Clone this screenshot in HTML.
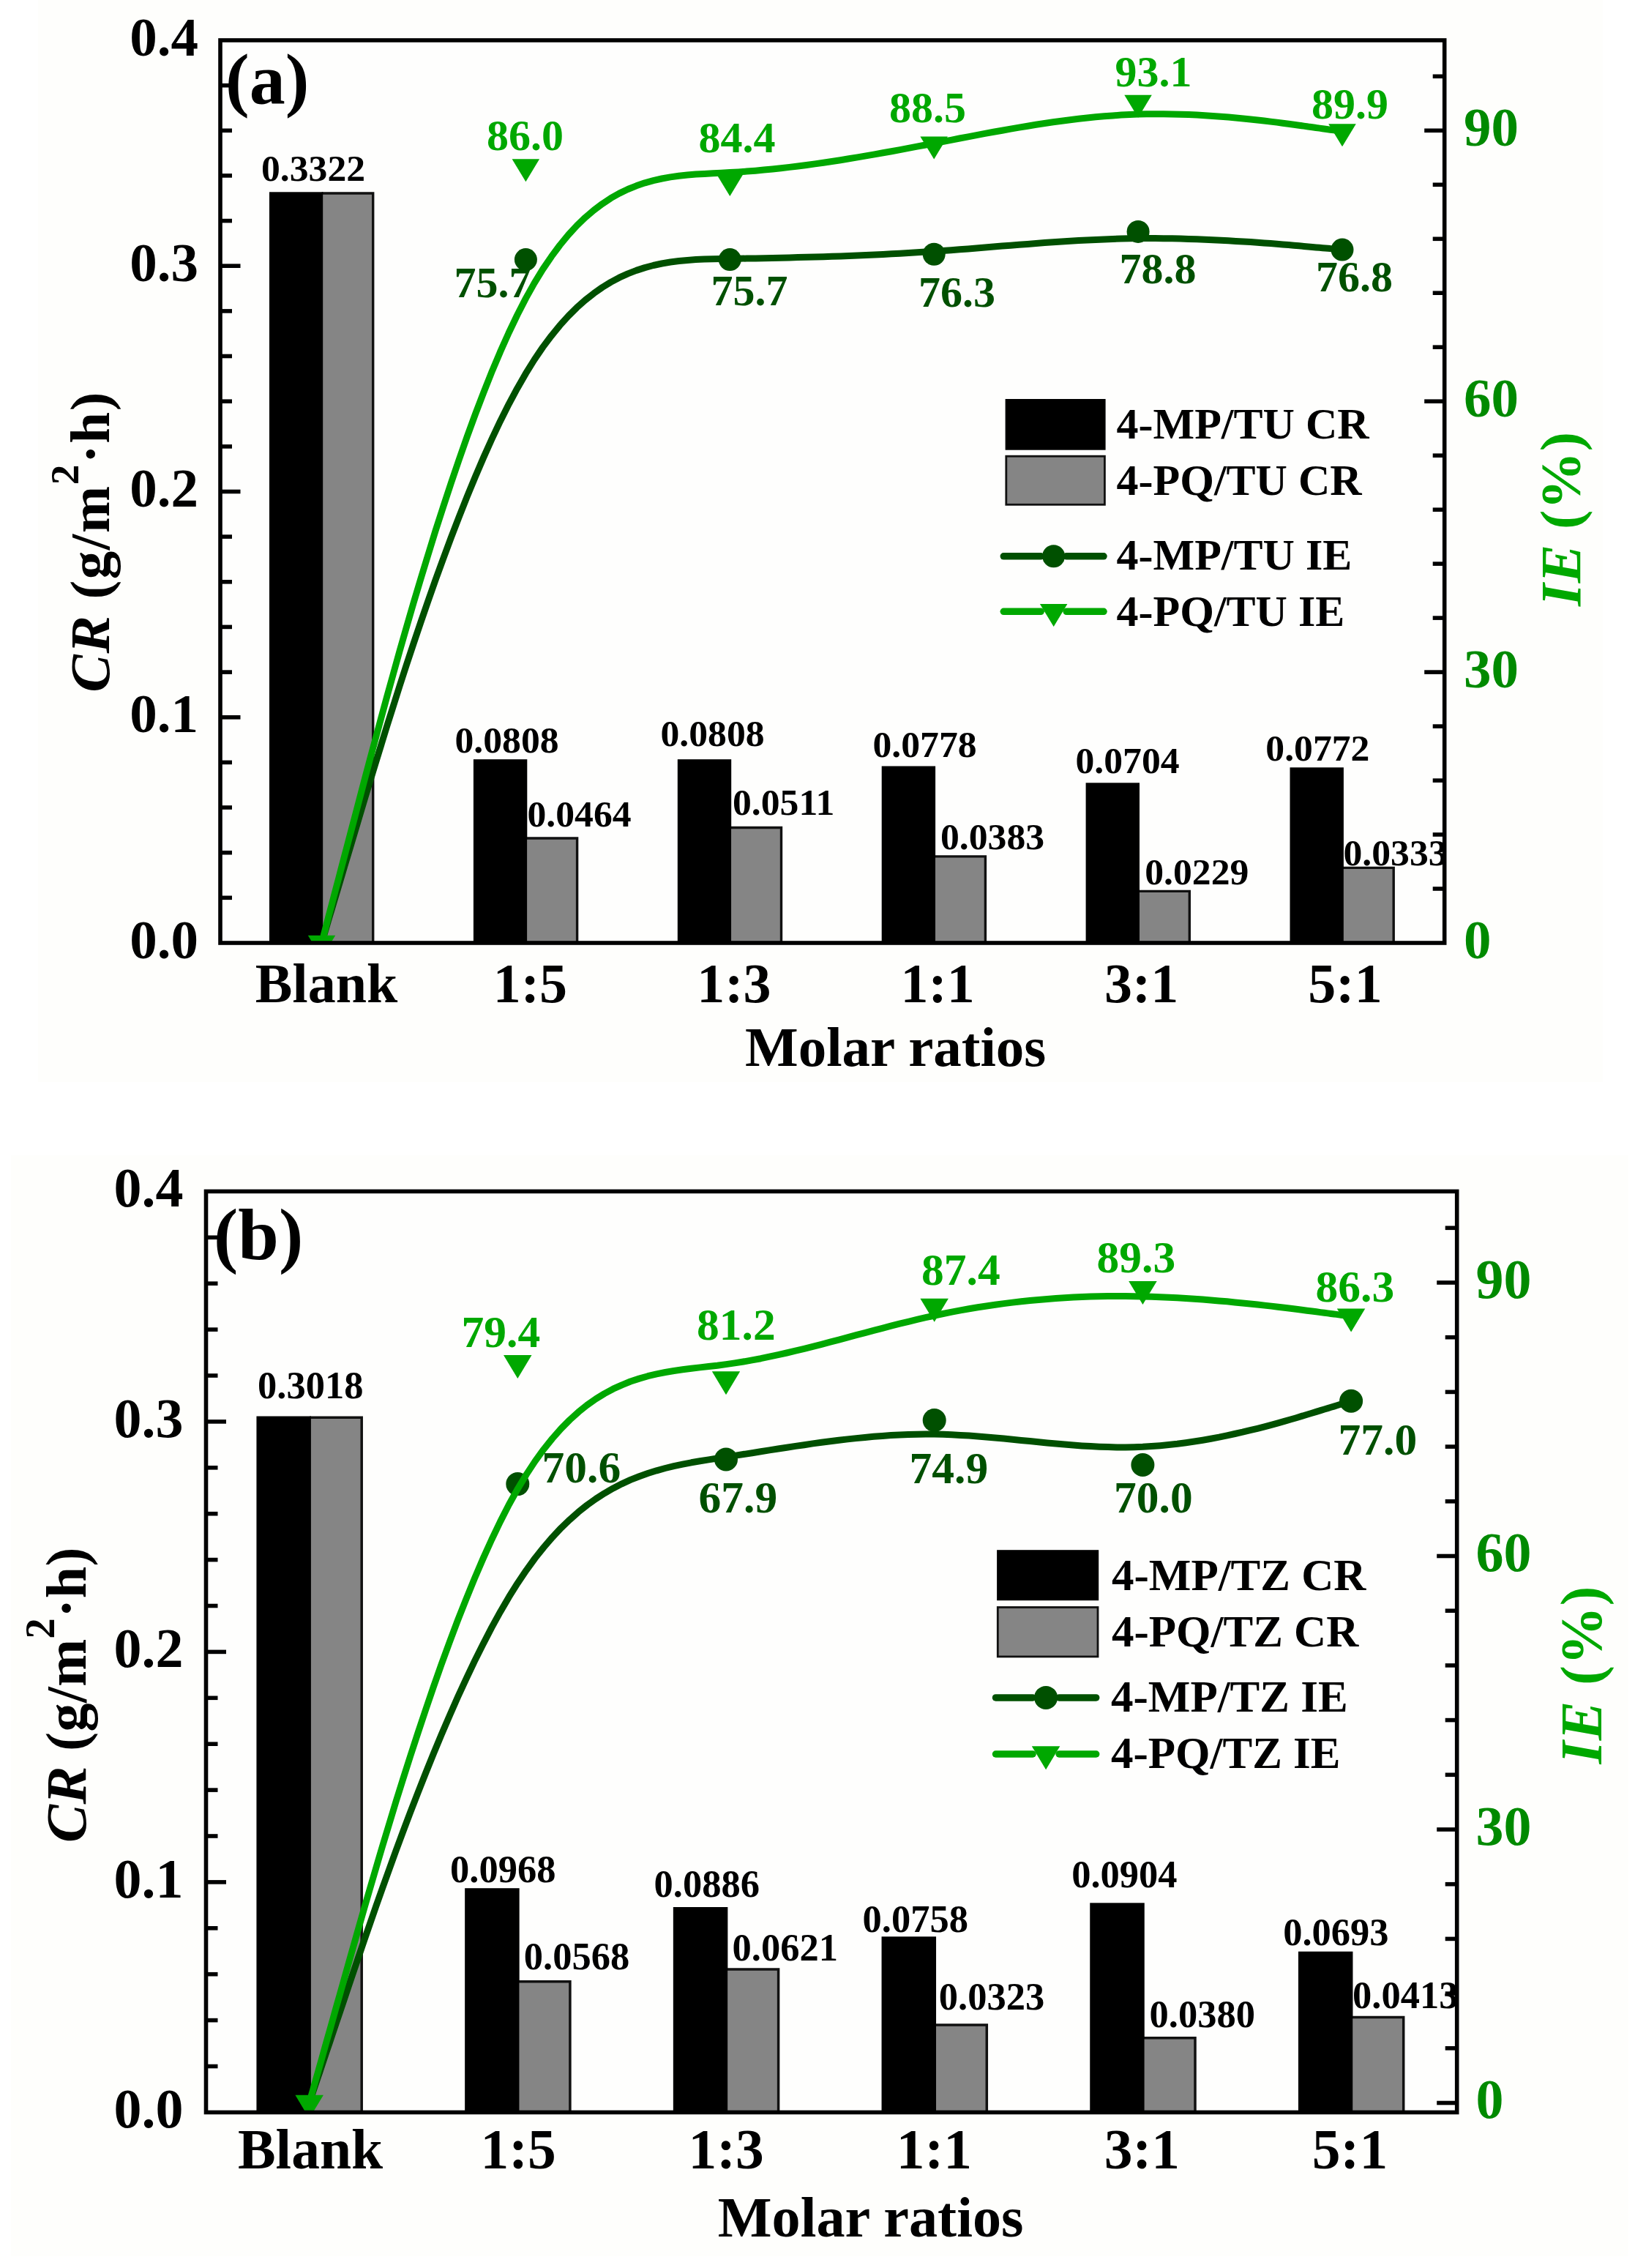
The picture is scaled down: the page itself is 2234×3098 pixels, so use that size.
<!DOCTYPE html>
<html><head><meta charset="utf-8"><title>Figure</title>
<style>html,body{margin:0;padding:0;background:#fff}svg{display:block}</style></head>
<body>
<svg width="2234" height="3098" viewBox="0 0 2234 3098" font-family="'Liberation Serif', serif" font-weight="bold">
<rect x="52" y="0" width="2138" height="1478" fill="#fefefc"/>
<rect x="15" y="1578" width="2210" height="1504" fill="#fefefc"/>
<rect x="301" y="55" width="1672.7" height="1233.0" fill="#fefefd"/>
<rect x="441.40" y="264.0" width="68.30" height="1024.0" fill="#858585"/>
<path d="M509.70,1288 V264.0 H439.70" fill="none" stroke="#111" stroke-width="3.4"/>
<rect x="368.00" y="262.3" width="73.40" height="1025.7" fill="#000"/>
<rect x="720.30" y="1145.0" width="68.30" height="143.0" fill="#858585"/>
<path d="M788.60,1288 V1145.0 H718.60" fill="none" stroke="#111" stroke-width="3.4"/>
<rect x="646.90" y="1037.2" width="73.40" height="250.8" fill="#000"/>
<rect x="999.20" y="1130.5" width="68.30" height="157.5" fill="#858585"/>
<path d="M1067.50,1288 V1130.5 H997.50" fill="none" stroke="#111" stroke-width="3.4"/>
<rect x="925.80" y="1037.2" width="73.40" height="250.8" fill="#000"/>
<rect x="1278.10" y="1169.9" width="68.30" height="118.1" fill="#858585"/>
<path d="M1346.40,1288 V1169.9 H1276.40" fill="none" stroke="#111" stroke-width="3.4"/>
<rect x="1204.70" y="1046.5" width="73.40" height="241.5" fill="#000"/>
<rect x="1557.00" y="1217.4" width="68.30" height="70.6" fill="#858585"/>
<path d="M1625.30,1288 V1217.4 H1555.30" fill="none" stroke="#111" stroke-width="3.4"/>
<rect x="1483.60" y="1069.3" width="73.40" height="218.7" fill="#000"/>
<rect x="1835.90" y="1185.4" width="68.30" height="102.6" fill="#858585"/>
<path d="M1904.20,1288 V1185.4 H1834.20" fill="none" stroke="#111" stroke-width="3.4"/>
<rect x="1762.50" y="1048.3" width="73.40" height="239.7" fill="#000"/>
<clipPath id="clipa"><rect x="301" y="55" width="1672.7" height="1233.0"/></clipPath>
<g clip-path="url(#clipa)">
<path d="M439.5,1288.0 L439.5,1288.0 L439.5,1287.9 L439.6,1287.7 L439.7,1287.3 L439.9,1286.6 L440.2,1285.6 L440.7,1284.1 L441.2,1282.2 L442.0,1279.8 L442.9,1276.7 L444.0,1273.0 L445.3,1268.6 L446.9,1263.3 L448.7,1257.1 L450.8,1250.0 L453.3,1241.9 L456.0,1232.7 L459.1,1222.4 L462.6,1210.8 L466.4,1198.0 L470.6,1183.8 L475.3,1168.2 L480.4,1151.1 L486.0,1132.4 L492.0,1112.2 L498.5,1090.5 L505.5,1067.4 L512.9,1043.1 L520.7,1017.8 L528.8,991.5 L537.4,964.3 L546.2,936.5 L555.4,908.2 L564.9,879.5 L574.7,850.5 L584.8,821.3 L595.0,792.2 L605.6,763.2 L616.3,734.4 L627.2,706.1 L638.2,678.3 L649.4,651.2 L660.7,624.9 L672.1,599.5 L683.6,575.2 L695.2,552.1 L706.8,530.4 L718.4,510.2 L730.0,491.5 L741.6,474.4 L753.3,458.8 L764.9,444.6 L776.5,431.8 L788.1,420.2 L799.7,409.9 L811.4,400.7 L823.0,392.5 L834.6,385.4 L846.2,379.2 L857.9,373.9 L869.5,369.4 L881.1,365.6 L892.7,362.5 L904.3,360.0 L916.0,358.0 L927.6,356.5 L939.2,355.4 L950.8,354.6 L962.4,354.1 L974.1,353.8 L985.7,353.5 L997.3,353.4 L1008.9,353.2 L1020.5,353.1 L1032.2,352.9 L1043.8,352.7 L1055.4,352.4 L1067.0,352.2 L1078.6,351.9 L1090.3,351.6 L1101.9,351.3 L1113.5,351.0 L1125.1,350.7 L1136.7,350.3 L1148.4,349.9 L1160.0,349.4 L1171.6,349.0 L1183.2,348.5 L1194.9,348.0 L1206.5,347.4 L1218.1,346.8 L1229.7,346.2 L1241.3,345.5 L1253.0,344.8 L1264.6,344.1 L1276.2,343.3 L1287.8,342.5 L1299.4,341.7 L1311.1,340.8 L1322.7,339.9 L1334.3,338.9 L1345.9,338.0 L1357.5,337.1 L1369.2,336.1 L1380.8,335.2 L1392.4,334.3 L1404.0,333.4 L1415.6,332.5 L1427.3,331.6 L1438.9,330.8 L1450.5,330.0 L1462.1,329.3 L1473.8,328.6 L1485.4,327.9 L1497.0,327.4 L1508.6,326.9 L1520.2,326.4 L1531.9,326.1 L1543.5,325.8 L1555.1,325.6 L1566.7,325.6 L1578.3,325.6 L1589.9,325.7 L1601.4,325.8 L1612.8,326.1 L1624.1,326.4 L1635.3,326.8 L1646.3,327.2 L1657.2,327.7 L1667.9,328.2 L1678.5,328.8 L1688.7,329.4 L1698.8,330.0 L1708.6,330.6 L1718.1,331.3 L1727.3,332.0 L1736.1,332.6 L1744.7,333.3 L1752.8,334.0 L1760.6,334.6 L1768.0,335.2 L1775.0,335.8 L1781.5,336.4 L1787.5,336.9 L1793.1,337.4 L1798.2,337.9 L1802.9,338.3 L1807.1,338.7 L1810.9,339.0 L1814.4,339.3 L1817.5,339.6 L1820.2,339.8 L1822.7,340.1 L1824.8,340.2 L1826.6,340.4 L1828.2,340.5 L1829.5,340.7 L1830.6,340.8 L1831.5,340.8 L1832.3,340.9 L1832.8,341.0 L1833.3,341.0 L1833.6,341.0 L1833.8,341.0 L1833.9,341.0 L1834.0,341.1 L1834.0,341.1 L1834.0,341.1" fill="none" stroke="#005000" stroke-width="9" stroke-linejoin="round" stroke-linecap="butt"/>
<circle cx="718.4" cy="354.6" r="15.5" fill="#005000"/>
<circle cx="997.3" cy="354.6" r="15.5" fill="#005000"/>
<circle cx="1276.2" cy="347.2" r="15.5" fill="#005000"/>
<circle cx="1555.1" cy="316.4" r="15.5" fill="#005000"/>
<circle cx="1834.0" cy="341.1" r="15.5" fill="#005000"/>
<path d="M439.5,1288.0 L439.5,1288.0 L439.5,1287.9 L439.6,1287.7 L439.7,1287.2 L439.9,1286.4 L440.2,1285.2 L440.7,1283.6 L441.2,1281.5 L442.0,1278.7 L442.9,1275.2 L444.0,1271.0 L445.3,1265.9 L446.9,1259.9 L448.7,1252.9 L450.8,1244.9 L453.3,1235.6 L456.0,1225.2 L459.1,1213.4 L462.6,1200.3 L466.4,1185.7 L470.6,1169.6 L475.3,1151.9 L480.4,1132.5 L486.0,1111.3 L492.0,1088.3 L498.5,1063.6 L505.5,1037.4 L512.9,1009.8 L520.7,981.0 L528.8,951.2 L537.4,920.4 L546.2,888.8 L555.4,856.7 L564.9,824.1 L574.7,791.2 L584.8,758.2 L595.0,725.2 L605.6,692.4 L616.3,659.9 L627.2,627.9 L638.2,596.5 L649.4,565.9 L660.7,536.3 L672.1,507.7 L683.6,480.4 L695.2,454.5 L706.8,430.2 L718.4,407.6 L730.0,386.9 L741.6,367.9 L753.3,350.7 L764.9,335.0 L776.5,320.9 L788.1,308.3 L799.7,297.1 L811.4,287.1 L823.0,278.4 L834.6,270.7 L846.2,264.1 L857.9,258.5 L869.5,253.8 L881.1,249.8 L892.7,246.6 L904.3,244.0 L916.0,241.9 L927.6,240.3 L939.2,239.1 L950.8,238.1 L962.4,237.4 L974.1,236.8 L985.7,236.2 L997.3,235.6 L1008.9,234.9 L1020.5,234.1 L1032.2,233.2 L1043.8,232.1 L1055.4,231.0 L1067.0,229.8 L1078.6,228.4 L1090.3,227.0 L1101.9,225.5 L1113.5,223.9 L1125.1,222.2 L1136.7,220.5 L1148.4,218.7 L1160.0,216.8 L1171.6,214.9 L1183.2,212.9 L1194.9,210.9 L1206.5,208.8 L1218.1,206.7 L1229.7,204.6 L1241.3,202.4 L1253.0,200.2 L1264.6,198.0 L1276.2,195.8 L1287.8,193.5 L1299.4,191.3 L1311.1,189.0 L1322.7,186.8 L1334.3,184.6 L1345.9,182.4 L1357.5,180.3 L1369.2,178.2 L1380.8,176.1 L1392.4,174.1 L1404.0,172.2 L1415.6,170.3 L1427.3,168.5 L1438.9,166.8 L1450.5,165.2 L1462.1,163.7 L1473.8,162.3 L1485.4,161.0 L1497.0,159.8 L1508.6,158.8 L1520.2,157.9 L1531.9,157.1 L1543.5,156.5 L1555.1,156.1 L1566.7,155.8 L1578.3,155.7 L1589.9,155.7 L1601.4,155.9 L1612.8,156.2 L1624.1,156.6 L1635.3,157.1 L1646.3,157.7 L1657.2,158.4 L1667.9,159.2 L1678.5,160.1 L1688.7,161.0 L1698.8,161.9 L1708.6,162.9 L1718.1,164.0 L1727.3,165.0 L1736.1,166.1 L1744.7,167.1 L1752.8,168.2 L1760.6,169.2 L1768.0,170.2 L1775.0,171.2 L1781.5,172.1 L1787.5,173.0 L1793.1,173.7 L1798.2,174.5 L1802.9,175.1 L1807.1,175.7 L1810.9,176.3 L1814.4,176.8 L1817.5,177.2 L1820.2,177.6 L1822.7,177.9 L1824.8,178.2 L1826.6,178.5 L1828.2,178.7 L1829.5,178.9 L1830.6,179.1 L1831.5,179.2 L1832.3,179.3 L1832.8,179.4 L1833.3,179.4 L1833.6,179.5 L1833.8,179.5 L1833.9,179.5 L1834.0,179.5 L1834.0,179.5 L1834.0,179.5" fill="none" stroke="#00a800" stroke-width="9" stroke-linejoin="round" stroke-linecap="butt"/>
<polygon points="420.8,1277.7 458.2,1277.7 439.5,1308.7" fill="#00a800"/>
<polygon points="699.6,217.3 737.1,217.3 718.4,248.3" fill="#00a800"/>
<polygon points="978.5,237.0 1016.0,237.0 997.3,268.0" fill="#00a800"/>
<polygon points="1257.4,186.5 1294.9,186.5 1276.2,217.5" fill="#00a800"/>
<polygon points="1536.3,129.7 1573.8,129.7 1555.1,160.7" fill="#00a800"/>
<polygon points="1815.2,169.2 1852.8,169.2 1834.0,200.2" fill="#00a800"/>
</g>
<rect x="301" y="55" width="1672.7" height="1233.0" fill="none" stroke="#000" stroke-width="5.6"/>
<line x1="301" x2="317" y1="1226.3" y2="1226.3" stroke="#000" stroke-width="5.6"/>
<line x1="301" x2="317" y1="1164.7" y2="1164.7" stroke="#000" stroke-width="5.6"/>
<line x1="301" x2="317" y1="1103.0" y2="1103.0" stroke="#000" stroke-width="5.6"/>
<line x1="301" x2="317" y1="1041.4" y2="1041.4" stroke="#000" stroke-width="5.6"/>
<line x1="301" x2="328.5" y1="979.8" y2="979.8" stroke="#000" stroke-width="5.6"/>
<line x1="301" x2="317" y1="918.1" y2="918.1" stroke="#000" stroke-width="5.6"/>
<line x1="301" x2="317" y1="856.4" y2="856.4" stroke="#000" stroke-width="5.6"/>
<line x1="301" x2="317" y1="794.8" y2="794.8" stroke="#000" stroke-width="5.6"/>
<line x1="301" x2="317" y1="733.1" y2="733.1" stroke="#000" stroke-width="5.6"/>
<line x1="301" x2="328.5" y1="671.5" y2="671.5" stroke="#000" stroke-width="5.6"/>
<line x1="301" x2="317" y1="609.9" y2="609.9" stroke="#000" stroke-width="5.6"/>
<line x1="301" x2="317" y1="548.2" y2="548.2" stroke="#000" stroke-width="5.6"/>
<line x1="301" x2="317" y1="486.5" y2="486.5" stroke="#000" stroke-width="5.6"/>
<line x1="301" x2="317" y1="424.9" y2="424.9" stroke="#000" stroke-width="5.6"/>
<line x1="301" x2="328.5" y1="363.2" y2="363.2" stroke="#000" stroke-width="5.6"/>
<line x1="301" x2="317" y1="301.6" y2="301.6" stroke="#000" stroke-width="5.6"/>
<line x1="301" x2="317" y1="239.9" y2="239.9" stroke="#000" stroke-width="5.6"/>
<line x1="301" x2="317" y1="178.3" y2="178.3" stroke="#000" stroke-width="5.6"/>
<line x1="301" x2="317" y1="116.7" y2="116.7" stroke="#000" stroke-width="5.6"/>
<line x1="1973.7" x2="1957.7" y1="1214.0" y2="1214.0" stroke="#000" stroke-width="5.6"/>
<line x1="1973.7" x2="1957.7" y1="1140.0" y2="1140.0" stroke="#000" stroke-width="5.6"/>
<line x1="1973.7" x2="1957.7" y1="1066.1" y2="1066.1" stroke="#000" stroke-width="5.6"/>
<line x1="1973.7" x2="1957.7" y1="992.1" y2="992.1" stroke="#000" stroke-width="5.6"/>
<line x1="1973.7" x2="1946.2" y1="918.1" y2="918.1" stroke="#000" stroke-width="5.6"/>
<line x1="1973.7" x2="1957.7" y1="844.1" y2="844.1" stroke="#000" stroke-width="5.6"/>
<line x1="1973.7" x2="1957.7" y1="770.1" y2="770.1" stroke="#000" stroke-width="5.6"/>
<line x1="1973.7" x2="1957.7" y1="696.2" y2="696.2" stroke="#000" stroke-width="5.6"/>
<line x1="1973.7" x2="1957.7" y1="622.2" y2="622.2" stroke="#000" stroke-width="5.6"/>
<line x1="1973.7" x2="1946.2" y1="548.2" y2="548.2" stroke="#000" stroke-width="5.6"/>
<line x1="1973.7" x2="1957.7" y1="474.2" y2="474.2" stroke="#000" stroke-width="5.6"/>
<line x1="1973.7" x2="1957.7" y1="400.2" y2="400.2" stroke="#000" stroke-width="5.6"/>
<line x1="1973.7" x2="1957.7" y1="326.3" y2="326.3" stroke="#000" stroke-width="5.6"/>
<line x1="1973.7" x2="1957.7" y1="252.3" y2="252.3" stroke="#000" stroke-width="5.6"/>
<line x1="1973.7" x2="1946.2" y1="178.3" y2="178.3" stroke="#000" stroke-width="5.6"/>
<line x1="1973.7" x2="1957.7" y1="104.3" y2="104.3" stroke="#000" stroke-width="5.6"/>
<text x="271.0" y="1308.5" font-size="75" fill="#000" text-anchor="end" >0.0</text>
<text x="271.0" y="1000.2" font-size="75" fill="#000" text-anchor="end" >0.1</text>
<text x="271.0" y="692.0" font-size="75" fill="#000" text-anchor="end" >0.2</text>
<text x="271.0" y="383.7" font-size="75" fill="#000" text-anchor="end" >0.3</text>
<text x="271.0" y="75.5" font-size="75" fill="#000" text-anchor="end" >0.4</text>
<text x="2000.0" y="1309.0" font-size="75" fill="#008a00" text-anchor="start" >0</text>
<text x="2000.0" y="939.1" font-size="75" fill="#008a00" text-anchor="start" >30</text>
<text x="2000.0" y="569.2" font-size="75" fill="#008a00" text-anchor="start" >60</text>
<text x="2000.0" y="199.3" font-size="75" fill="#008a00" text-anchor="start" >90</text>
<text x="446.0" y="1368.5" font-size="76" fill="#000" text-anchor="middle" >Blank</text>
<text x="724.4" y="1368.5" font-size="76" fill="#000" text-anchor="middle" >1:5</text>
<text x="1002.8" y="1368.5" font-size="76" fill="#000" text-anchor="middle" >1:3</text>
<text x="1281.2" y="1368.5" font-size="76" fill="#000" text-anchor="middle" >1:1</text>
<text x="1559.6" y="1368.5" font-size="76" fill="#000" text-anchor="middle" >3:1</text>
<text x="1838.0" y="1368.5" font-size="76" fill="#000" text-anchor="middle" >5:1</text>
<text x="1223.7" y="1455.5" font-size="77" fill="#000" text-anchor="middle" >Molar ratios</text>
<text transform="translate(149,740.5) rotate(-90)" font-size="77" text-anchor="middle" textLength="410" lengthAdjust="spacing"><tspan font-style="italic">CR</tspan> (g/m<tspan font-size="55.4" dy="-42.4">2</tspan><tspan dy="42.4">·h)</tspan></text>
<text transform="translate(2159,709) rotate(-90)" font-size="79" text-anchor="middle" fill="#00a800" textLength="238" lengthAdjust="spacing"><tspan font-style="italic">IE</tspan> (%)</text>
<text x="308.0" y="141.3" font-size="98" fill="#000" text-anchor="start" >(a)</text>
<text x="357.0" y="246.5" font-size="51.7" fill="#000" text-anchor="start" >0.3322</text>
<text x="621.5" y="1027.9" font-size="51.7" fill="#000" text-anchor="start" >0.0808</text>
<text x="720.5" y="1128.5" font-size="51.7" fill="#000" text-anchor="start" >0.0464</text>
<text x="902.5" y="1018.5" font-size="51.7" fill="#000" text-anchor="start" >0.0808</text>
<text x="1001.0" y="1113.0" font-size="51.7" fill="#000" text-anchor="start" >0.0511</text>
<text x="1192.5" y="1033.8" font-size="51.7" fill="#000" text-anchor="start" >0.0778</text>
<text x="1285.0" y="1160.4" font-size="51.7" fill="#000" text-anchor="start" >0.0383</text>
<text x="1469.5" y="1055.8" font-size="51.7" fill="#000" text-anchor="start" >0.0704</text>
<text x="1564.2" y="1208.3" font-size="51.7" fill="#000" text-anchor="start" >0.0229</text>
<text x="1729.3" y="1038.7" font-size="51.7" fill="#000" text-anchor="start" >0.0772</text>
<text x="1835.5" y="1181.8" font-size="51.7" fill="#000" text-anchor="start" >0.0333</text>
<text x="665.0" y="205.0" font-size="60" fill="#00a800" text-anchor="start" >86.0</text>
<text x="954.5" y="208.0" font-size="60" fill="#00a800" text-anchor="start" >84.4</text>
<text x="1215.0" y="167.0" font-size="60" fill="#00a800" text-anchor="start" >88.5</text>
<text x="1523.5" y="118.0" font-size="60" fill="#00a800" text-anchor="start" >93.1</text>
<text x="1792.0" y="162.0" font-size="60" fill="#00a800" text-anchor="start" >89.9</text>
<text x="620.5" y="406.0" font-size="60" fill="#005000" text-anchor="start" >75.7</text>
<text x="971.5" y="417.0" font-size="60" fill="#005000" text-anchor="start" >75.7</text>
<text x="1255.0" y="418.5" font-size="60" fill="#005000" text-anchor="start" >76.3</text>
<text x="1529.5" y="386.5" font-size="60" fill="#005000" text-anchor="start" >78.8</text>
<text x="1798.0" y="398.0" font-size="60" fill="#005000" text-anchor="start" >76.8</text>
<rect x="1373.6" y="545" width="137.0" height="69.7" fill="#000"/>
<rect x="1374.8" y="623.2" width="134.6" height="66.1" fill="#858585" stroke="#111" stroke-width="2.8"/>
<line x1="1371.3" x2="1422.15" y1="759.8" y2="759.8" stroke="#005000" stroke-width="9.5" stroke-linecap="round"/>
<line x1="1457.15" x2="1508" y1="759.8" y2="759.8" stroke="#005000" stroke-width="9.5" stroke-linecap="round"/>
<line x1="1371.3" x2="1422.15" y1="835.3" y2="835.3" stroke="#00a800" stroke-width="9.5" stroke-linecap="round"/>
<line x1="1457.15" x2="1508" y1="835.3" y2="835.3" stroke="#00a800" stroke-width="9.5" stroke-linecap="round"/>
<circle cx="1439.65" cy="759.8" r="15.5" fill="#005000"/>
<polygon points="1420.9,825.0 1458.4,825.0 1439.7,856.0" fill="#00a800"/>
<text x="1525.6" y="599.3" font-size="60" fill="#000" text-anchor="start" >4-MP/TU CR</text>
<text x="1525.6" y="675.5" font-size="60" fill="#000" text-anchor="start" >4-PQ/TU CR</text>
<text x="1525.6" y="778.3" font-size="60" fill="#000" text-anchor="start" >4-MP/TU IE</text>
<text x="1525.6" y="854.5" font-size="60" fill="#000" text-anchor="start" >4-PQ/TU IE</text>
<rect x="281.5" y="1627.4" width="1709.2" height="1258.0" fill="#fefefd"/>
<rect x="424.95" y="1936.2" width="69.25" height="949.2" fill="#858585"/>
<path d="M494.20,2885.4 V1936.2 H423.20" fill="none" stroke="#111" stroke-width="3.5"/>
<rect x="350.45" y="1934.5" width="74.50" height="950.9" fill="#000"/>
<rect x="709.65" y="2706.8" width="69.25" height="178.6" fill="#858585"/>
<path d="M778.90,2885.4 V2706.8 H707.90" fill="none" stroke="#111" stroke-width="3.5"/>
<rect x="635.15" y="2579.2" width="74.50" height="306.2" fill="#000"/>
<rect x="994.35" y="2690.1" width="69.25" height="195.3" fill="#858585"/>
<path d="M1063.60,2885.4 V2690.1 H992.60" fill="none" stroke="#111" stroke-width="3.5"/>
<rect x="919.85" y="2605.0" width="74.50" height="280.4" fill="#000"/>
<rect x="1279.05" y="2765.9" width="69.25" height="119.5" fill="#858585"/>
<path d="M1348.30,2885.4 V2765.9 H1277.30" fill="none" stroke="#111" stroke-width="3.5"/>
<rect x="1204.55" y="2645.3" width="74.50" height="240.1" fill="#000"/>
<rect x="1563.75" y="2783.8" width="69.25" height="101.6" fill="#858585"/>
<path d="M1633.00,2885.4 V2783.8 H1562.00" fill="none" stroke="#111" stroke-width="3.5"/>
<rect x="1489.25" y="2599.3" width="74.50" height="286.1" fill="#000"/>
<rect x="1848.45" y="2755.5" width="69.25" height="129.9" fill="#858585"/>
<path d="M1917.70,2885.4 V2755.5 H1846.70" fill="none" stroke="#111" stroke-width="3.5"/>
<rect x="1773.95" y="2665.7" width="74.50" height="219.7" fill="#000"/>
<clipPath id="clipb"><rect x="281.5" y="1627.4" width="1709.2" height="1258.0"/></clipPath>
<g clip-path="url(#clipb)">
<path d="M422.6,2872.5 L422.6,2872.5 L422.6,2872.4 L422.7,2872.2 L422.8,2871.8 L423.0,2871.2 L423.3,2870.3 L423.8,2869.0 L424.4,2867.3 L425.1,2865.1 L426.0,2862.3 L427.2,2858.9 L428.5,2854.9 L430.1,2850.1 L432.0,2844.5 L434.2,2838.1 L436.7,2830.8 L439.5,2822.4 L442.6,2813.1 L446.1,2802.6 L450.1,2791.0 L454.4,2778.1 L459.1,2764.0 L464.4,2748.5 L470.1,2731.6 L476.2,2713.3 L482.9,2693.6 L490.0,2672.7 L497.5,2650.7 L505.5,2627.7 L513.8,2603.8 L522.5,2579.2 L531.6,2554.0 L540.9,2528.2 L550.6,2502.1 L560.6,2475.7 L570.9,2449.1 L581.4,2422.5 L592.1,2396.0 L603.0,2369.8 L614.2,2343.8 L625.4,2318.3 L636.9,2293.4 L648.4,2269.1 L660.1,2245.7 L671.8,2223.2 L683.6,2201.7 L695.4,2181.4 L707.3,2162.4 L719.2,2144.8 L731.0,2128.5 L742.9,2113.6 L754.8,2099.8 L766.6,2087.2 L778.5,2075.8 L790.3,2065.3 L802.2,2055.9 L814.1,2047.4 L825.9,2039.8 L837.8,2032.9 L849.7,2026.8 L861.5,2021.4 L873.4,2016.7 L885.2,2012.5 L897.1,2008.8 L909.0,2005.5 L920.8,2002.6 L932.7,2000.1 L944.6,1997.8 L956.4,1995.8 L968.3,1993.9 L980.1,1992.0 L992.0,1990.2 L1003.9,1988.4 L1015.7,1986.5 L1027.6,1984.7 L1039.5,1982.8 L1051.3,1980.9 L1063.2,1979.0 L1075.0,1977.2 L1086.9,1975.4 L1098.8,1973.7 L1110.6,1971.9 L1122.5,1970.3 L1134.3,1968.7 L1146.2,1967.2 L1158.1,1965.9 L1169.9,1964.6 L1181.8,1963.4 L1193.7,1962.3 L1205.5,1961.4 L1217.4,1960.6 L1229.2,1959.9 L1241.1,1959.5 L1253.0,1959.2 L1264.8,1959.0 L1276.7,1959.1 L1288.6,1959.3 L1300.4,1959.8 L1312.3,1960.4 L1324.1,1961.1 L1336.0,1962.0 L1347.9,1962.9 L1359.7,1964.0 L1371.6,1965.1 L1383.5,1966.2 L1395.3,1967.4 L1407.2,1968.6 L1419.0,1969.8 L1430.9,1971.0 L1442.8,1972.1 L1454.6,1973.1 L1466.5,1974.1 L1478.4,1974.9 L1490.2,1975.6 L1502.1,1976.2 L1514.0,1976.6 L1525.8,1976.9 L1537.7,1976.9 L1549.5,1976.7 L1561.4,1976.3 L1573.3,1975.6 L1585.1,1974.7 L1596.9,1973.6 L1608.6,1972.3 L1620.3,1970.7 L1631.8,1969.0 L1643.3,1967.2 L1654.5,1965.2 L1665.7,1963.1 L1676.6,1960.8 L1687.3,1958.5 L1697.8,1956.2 L1708.1,1953.7 L1718.1,1951.3 L1727.8,1948.8 L1737.1,1946.3 L1746.2,1943.8 L1754.9,1941.4 L1763.2,1939.0 L1771.2,1936.7 L1778.7,1934.4 L1785.8,1932.3 L1792.5,1930.3 L1798.6,1928.4 L1804.3,1926.6 L1809.6,1925.0 L1814.3,1923.6 L1818.6,1922.3 L1822.6,1921.1 L1826.1,1920.0 L1829.2,1919.0 L1832.0,1918.2 L1834.5,1917.4 L1836.7,1916.7 L1838.6,1916.2 L1840.2,1915.7 L1841.5,1915.2 L1842.7,1914.9 L1843.6,1914.6 L1844.3,1914.4 L1844.9,1914.2 L1845.4,1914.1 L1845.7,1914.0 L1845.9,1913.9 L1846.0,1913.9 L1846.1,1913.9 L1846.1,1913.9 L1846.1,1913.8" fill="none" stroke="#005000" stroke-width="9" stroke-linejoin="round" stroke-linecap="butt"/>
<circle cx="707.3" cy="2027.1" r="16" fill="#005000"/>
<circle cx="992.0" cy="1993.5" r="16" fill="#005000"/>
<circle cx="1276.7" cy="1940.0" r="16" fill="#005000"/>
<circle cx="1561.4" cy="2001.0" r="16" fill="#005000"/>
<circle cx="1846.1" cy="1913.8" r="16" fill="#005000"/>
<path d="M422.6,2872.5 L422.6,2872.5 L422.6,2872.4 L422.7,2872.2 L422.8,2871.7 L423.0,2871.0 L423.3,2869.9 L423.8,2868.3 L424.4,2866.3 L425.1,2863.6 L426.0,2860.3 L427.2,2856.3 L428.5,2851.4 L430.1,2845.7 L432.0,2839.1 L434.2,2831.4 L436.7,2822.6 L439.5,2812.6 L442.6,2801.4 L446.1,2788.9 L450.1,2775.0 L454.4,2759.6 L459.1,2742.7 L464.4,2724.2 L470.1,2704.0 L476.2,2682.1 L482.9,2658.6 L490.0,2633.6 L497.5,2607.3 L505.5,2579.8 L513.8,2551.4 L522.5,2522.0 L531.6,2492.0 L540.9,2461.3 L550.6,2430.3 L560.6,2399.0 L570.9,2367.5 L581.4,2336.1 L592.1,2304.8 L603.0,2273.8 L614.2,2243.3 L625.4,2213.4 L636.9,2184.3 L648.4,2156.1 L660.1,2128.9 L671.8,2103.0 L683.6,2078.4 L695.4,2055.3 L707.3,2033.8 L719.2,2014.1 L731.0,1996.1 L742.9,1979.7 L754.8,1964.9 L766.6,1951.5 L778.5,1939.5 L790.3,1928.8 L802.2,1919.3 L814.1,1910.9 L825.9,1903.6 L837.8,1897.2 L849.7,1891.8 L861.5,1887.0 L873.4,1883.1 L885.2,1879.7 L897.1,1876.9 L909.0,1874.5 L920.8,1872.5 L932.7,1870.8 L944.6,1869.3 L956.4,1867.9 L968.3,1866.5 L980.1,1865.2 L992.0,1863.6 L1003.9,1861.9 L1015.7,1860.0 L1027.6,1857.9 L1039.5,1855.7 L1051.3,1853.2 L1063.2,1850.7 L1075.0,1848.0 L1086.9,1845.2 L1098.8,1842.3 L1110.6,1839.3 L1122.5,1836.3 L1134.3,1833.2 L1146.2,1830.1 L1158.1,1826.9 L1169.9,1823.7 L1181.8,1820.6 L1193.7,1817.4 L1205.5,1814.3 L1217.4,1811.2 L1229.2,1808.2 L1241.1,1805.3 L1253.0,1802.4 L1264.8,1799.7 L1276.7,1797.0 L1288.6,1794.5 L1300.4,1792.2 L1312.3,1789.9 L1324.1,1787.8 L1336.0,1785.8 L1347.9,1784.0 L1359.7,1782.2 L1371.6,1780.6 L1383.5,1779.1 L1395.3,1777.8 L1407.2,1776.5 L1419.0,1775.4 L1430.9,1774.4 L1442.8,1773.5 L1454.6,1772.7 L1466.5,1772.1 L1478.4,1771.5 L1490.2,1771.1 L1502.1,1770.8 L1514.0,1770.6 L1525.8,1770.5 L1537.7,1770.5 L1549.5,1770.7 L1561.4,1770.9 L1573.3,1771.2 L1585.1,1771.7 L1596.9,1772.2 L1608.6,1772.8 L1620.3,1773.5 L1631.8,1774.2 L1643.3,1775.1 L1654.5,1775.9 L1665.7,1776.9 L1676.6,1777.8 L1687.3,1778.9 L1697.8,1779.9 L1708.1,1780.9 L1718.1,1782.0 L1727.8,1783.1 L1737.1,1784.1 L1746.2,1785.2 L1754.9,1786.3 L1763.2,1787.3 L1771.2,1788.3 L1778.7,1789.2 L1785.8,1790.2 L1792.5,1791.0 L1798.6,1791.8 L1804.3,1792.6 L1809.6,1793.3 L1814.3,1793.9 L1818.6,1794.5 L1822.6,1795.0 L1826.1,1795.4 L1829.2,1795.9 L1832.0,1796.2 L1834.5,1796.5 L1836.7,1796.8 L1838.6,1797.1 L1840.2,1797.3 L1841.5,1797.5 L1842.7,1797.6 L1843.6,1797.7 L1844.3,1797.8 L1844.9,1797.9 L1845.4,1798.0 L1845.7,1798.0 L1845.9,1798.0 L1846.0,1798.1 L1846.1,1798.1 L1846.1,1798.1 L1846.1,1798.1" fill="none" stroke="#00a800" stroke-width="9" stroke-linejoin="round" stroke-linecap="butt"/>
<polygon points="403.4,2861.8 441.9,2861.8 422.6,2893.8" fill="#00a800"/>
<polygon points="688.0,1850.9 726.5,1850.9 707.3,1882.9" fill="#00a800"/>
<polygon points="972.8,1873.3 1011.2,1873.3 992.0,1905.3" fill="#00a800"/>
<polygon points="1257.4,1773.7 1295.9,1773.7 1276.7,1805.7" fill="#00a800"/>
<polygon points="1542.2,1750.0 1580.7,1750.0 1561.4,1782.0" fill="#00a800"/>
<polygon points="1826.8,1787.4 1865.3,1787.4 1846.1,1819.4" fill="#00a800"/>
</g>
<rect x="281.5" y="1627.4" width="1709.2" height="1258.0" fill="none" stroke="#000" stroke-width="5.6"/>
<line x1="281.5" x2="297.5" y1="2822.5" y2="2822.5" stroke="#000" stroke-width="5.6"/>
<line x1="281.5" x2="297.5" y1="2759.6" y2="2759.6" stroke="#000" stroke-width="5.6"/>
<line x1="281.5" x2="297.5" y1="2696.7" y2="2696.7" stroke="#000" stroke-width="5.6"/>
<line x1="281.5" x2="297.5" y1="2633.8" y2="2633.8" stroke="#000" stroke-width="5.6"/>
<line x1="281.5" x2="309.0" y1="2570.9" y2="2570.9" stroke="#000" stroke-width="5.6"/>
<line x1="281.5" x2="297.5" y1="2508.0" y2="2508.0" stroke="#000" stroke-width="5.6"/>
<line x1="281.5" x2="297.5" y1="2445.1" y2="2445.1" stroke="#000" stroke-width="5.6"/>
<line x1="281.5" x2="297.5" y1="2382.2" y2="2382.2" stroke="#000" stroke-width="5.6"/>
<line x1="281.5" x2="297.5" y1="2319.3" y2="2319.3" stroke="#000" stroke-width="5.6"/>
<line x1="281.5" x2="309.0" y1="2256.4" y2="2256.4" stroke="#000" stroke-width="5.6"/>
<line x1="281.5" x2="297.5" y1="2193.5" y2="2193.5" stroke="#000" stroke-width="5.6"/>
<line x1="281.5" x2="297.5" y1="2130.6" y2="2130.6" stroke="#000" stroke-width="5.6"/>
<line x1="281.5" x2="297.5" y1="2067.7" y2="2067.7" stroke="#000" stroke-width="5.6"/>
<line x1="281.5" x2="297.5" y1="2004.8" y2="2004.8" stroke="#000" stroke-width="5.6"/>
<line x1="281.5" x2="309.0" y1="1941.9" y2="1941.9" stroke="#000" stroke-width="5.6"/>
<line x1="281.5" x2="297.5" y1="1879.0" y2="1879.0" stroke="#000" stroke-width="5.6"/>
<line x1="281.5" x2="297.5" y1="1816.1" y2="1816.1" stroke="#000" stroke-width="5.6"/>
<line x1="281.5" x2="297.5" y1="1753.2" y2="1753.2" stroke="#000" stroke-width="5.6"/>
<line x1="281.5" x2="297.5" y1="1690.3" y2="1690.3" stroke="#000" stroke-width="5.6"/>
<line x1="1990.7" x2="1963.2" y1="2872.5" y2="2872.5" stroke="#000" stroke-width="5.6"/>
<line x1="1990.7" x2="1974.7" y1="2797.8" y2="2797.8" stroke="#000" stroke-width="5.6"/>
<line x1="1990.7" x2="1974.7" y1="2723.1" y2="2723.1" stroke="#000" stroke-width="5.6"/>
<line x1="1990.7" x2="1974.7" y1="2648.4" y2="2648.4" stroke="#000" stroke-width="5.6"/>
<line x1="1990.7" x2="1974.7" y1="2573.7" y2="2573.7" stroke="#000" stroke-width="5.6"/>
<line x1="1990.7" x2="1963.2" y1="2499.0" y2="2499.0" stroke="#000" stroke-width="5.6"/>
<line x1="1990.7" x2="1974.7" y1="2424.3" y2="2424.3" stroke="#000" stroke-width="5.6"/>
<line x1="1990.7" x2="1974.7" y1="2349.6" y2="2349.6" stroke="#000" stroke-width="5.6"/>
<line x1="1990.7" x2="1974.7" y1="2274.9" y2="2274.9" stroke="#000" stroke-width="5.6"/>
<line x1="1990.7" x2="1974.7" y1="2200.2" y2="2200.2" stroke="#000" stroke-width="5.6"/>
<line x1="1990.7" x2="1963.2" y1="2125.5" y2="2125.5" stroke="#000" stroke-width="5.6"/>
<line x1="1990.7" x2="1974.7" y1="2050.8" y2="2050.8" stroke="#000" stroke-width="5.6"/>
<line x1="1990.7" x2="1974.7" y1="1976.1" y2="1976.1" stroke="#000" stroke-width="5.6"/>
<line x1="1990.7" x2="1974.7" y1="1901.4" y2="1901.4" stroke="#000" stroke-width="5.6"/>
<line x1="1990.7" x2="1974.7" y1="1826.7" y2="1826.7" stroke="#000" stroke-width="5.6"/>
<line x1="1990.7" x2="1963.2" y1="1752.0" y2="1752.0" stroke="#000" stroke-width="5.6"/>
<line x1="1990.7" x2="1974.7" y1="1677.3" y2="1677.3" stroke="#000" stroke-width="5.6"/>
<text x="250.5" y="2906.4" font-size="76" fill="#000" text-anchor="end" >0.0</text>
<text x="250.5" y="2591.9" font-size="76" fill="#000" text-anchor="end" >0.1</text>
<text x="250.5" y="2277.4" font-size="76" fill="#000" text-anchor="end" >0.2</text>
<text x="250.5" y="1962.9" font-size="76" fill="#000" text-anchor="end" >0.3</text>
<text x="250.5" y="1648.4" font-size="76" fill="#000" text-anchor="end" >0.4</text>
<text x="2016.5" y="2893.0" font-size="76" fill="#008a00" text-anchor="start" >0</text>
<text x="2016.5" y="2519.5" font-size="76" fill="#008a00" text-anchor="start" >30</text>
<text x="2016.5" y="2146.0" font-size="76" fill="#008a00" text-anchor="start" >60</text>
<text x="2016.5" y="1772.5" font-size="76" fill="#008a00" text-anchor="start" >90</text>
<text x="424.0" y="2961.5" font-size="77.5" fill="#000" text-anchor="middle" >Blank</text>
<text x="708.1" y="2961.5" font-size="77.5" fill="#000" text-anchor="middle" >1:5</text>
<text x="992.2" y="2961.5" font-size="77.5" fill="#000" text-anchor="middle" >1:3</text>
<text x="1276.3" y="2961.5" font-size="77.5" fill="#000" text-anchor="middle" >1:1</text>
<text x="1560.4" y="2961.5" font-size="77.5" fill="#000" text-anchor="middle" >3:1</text>
<text x="1844.5" y="2961.5" font-size="77.5" fill="#000" text-anchor="middle" >5:1</text>
<text x="1189.6" y="3055.0" font-size="78.2" fill="#000" text-anchor="middle" >Molar ratios</text>
<text transform="translate(117,2315.2) rotate(-90)" font-size="78" text-anchor="middle" textLength="403.5" lengthAdjust="spacing"><tspan font-style="italic">CR</tspan> (g/m<tspan font-size="56.2" dy="-42.9">2</tspan><tspan dy="42.9">·h)</tspan></text>
<text transform="translate(2188,2288) rotate(-90)" font-size="80" text-anchor="middle" fill="#00a800" textLength="243" lengthAdjust="spacing"><tspan font-style="italic">IE</tspan> (%)</text>
<text x="292.0" y="1720.4" font-size="100" fill="#000" text-anchor="start" >(b)</text>
<text x="352.0" y="1909.5" font-size="52.5" fill="#000" text-anchor="start" >0.3018</text>
<text x="615.0" y="2570.7" font-size="52.5" fill="#000" text-anchor="start" >0.0968</text>
<text x="715.8" y="2689.8" font-size="52.5" fill="#000" text-anchor="start" >0.0568</text>
<text x="893.5" y="2591.3" font-size="52.5" fill="#000" text-anchor="start" >0.0886</text>
<text x="1000.5" y="2677.8" font-size="52.5" fill="#000" text-anchor="start" >0.0621</text>
<text x="1178.5" y="2639.2" font-size="52.5" fill="#000" text-anchor="start" >0.0758</text>
<text x="1282.8" y="2745.4" font-size="52.5" fill="#000" text-anchor="start" >0.0323</text>
<text x="1464.2" y="2578.4" font-size="52.5" fill="#000" text-anchor="start" >0.0904</text>
<text x="1570.5" y="2769.0" font-size="52.5" fill="#000" text-anchor="start" >0.0380</text>
<text x="1753.2" y="2657.4" font-size="52.5" fill="#000" text-anchor="start" >0.0693</text>
<text x="1848.0" y="2743.3" font-size="52.5" fill="#000" text-anchor="start" >0.0413</text>
<text x="630.5" y="1840.0" font-size="61.5" fill="#00a800" text-anchor="start" >79.4</text>
<text x="952.0" y="1829.5" font-size="61.5" fill="#00a800" text-anchor="start" >81.2</text>
<text x="1259.0" y="1755.0" font-size="61.5" fill="#00a800" text-anchor="start" >87.4</text>
<text x="1498.5" y="1738.0" font-size="61.5" fill="#00a800" text-anchor="start" >89.3</text>
<text x="1797.5" y="1778.0" font-size="61.5" fill="#00a800" text-anchor="start" >86.3</text>
<text x="740.5" y="2025.0" font-size="61.5" fill="#005000" text-anchor="start" >70.6</text>
<text x="954.5" y="2066.0" font-size="61.5" fill="#005000" text-anchor="start" >67.9</text>
<text x="1242.5" y="2025.7" font-size="61.5" fill="#005000" text-anchor="start" >74.9</text>
<text x="1522.0" y="2066.4" font-size="61.5" fill="#005000" text-anchor="start" >70.0</text>
<text x="1828.5" y="1987.0" font-size="61.5" fill="#005000" text-anchor="start" >77.0</text>
<rect x="1362.1" y="2117.2" width="139.1" height="69.0" fill="#000"/>
<rect x="1363.3" y="2195.5" width="136.7" height="67.4" fill="#858585" stroke="#111" stroke-width="2.8"/>
<line x1="1360.5" x2="1411.1" y1="2318.9" y2="2318.9" stroke="#005000" stroke-width="9.5" stroke-linecap="round"/>
<line x1="1447.1" x2="1497.7" y1="2318.9" y2="2318.9" stroke="#005000" stroke-width="9.5" stroke-linecap="round"/>
<line x1="1360.5" x2="1411.1" y1="2396" y2="2396" stroke="#00a800" stroke-width="9.5" stroke-linecap="round"/>
<line x1="1447.1" x2="1497.7" y1="2396" y2="2396" stroke="#00a800" stroke-width="9.5" stroke-linecap="round"/>
<circle cx="1429.1" cy="2318.9" r="16" fill="#005000"/>
<polygon points="1409.8,2385.3 1448.3,2385.3 1429.1,2417.3" fill="#00a800"/>
<text x="1519.0" y="2172.0" font-size="61" fill="#000" text-anchor="start" >4-MP/TZ CR</text>
<text x="1519.0" y="2249.1" font-size="61" fill="#000" text-anchor="start" >4-PQ/TZ CR</text>
<text x="1518.0" y="2338.2" font-size="61" fill="#000" text-anchor="start" >4-MP/TZ IE</text>
<text x="1518.0" y="2414.8" font-size="61" fill="#000" text-anchor="start" >4-PQ/TZ IE</text>
</svg>
</body></html>
